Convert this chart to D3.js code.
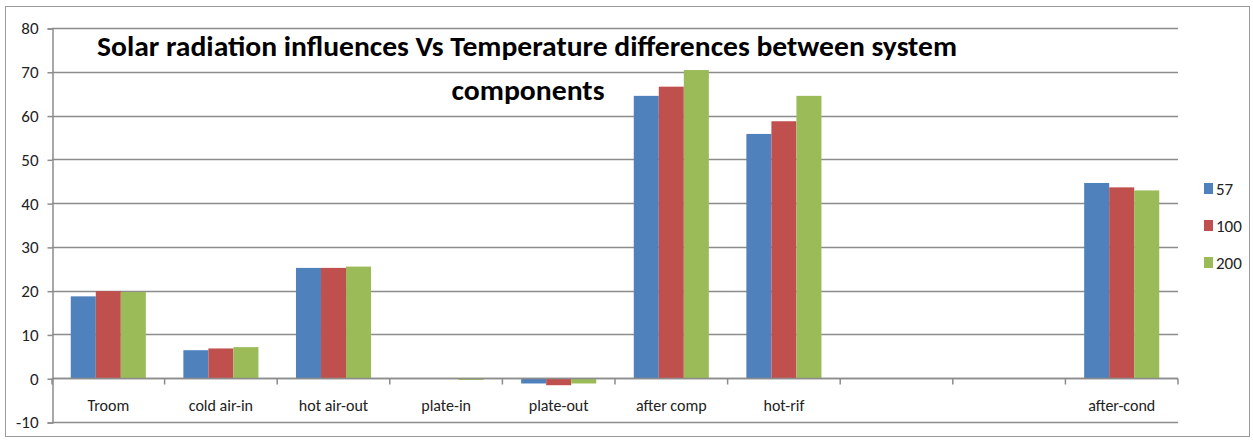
<!DOCTYPE html>
<html>
<head>
<meta charset="utf-8">
<script src="https://cdn.jsdelivr.net/npm/d3@7"></script>
<style>
  body { margin: 0; background: #fff; }
  text { font-family: Carlito, Calibri, "Open Sans", "DejaVu Sans", sans-serif; }
</style>
</head>
<body>
<div id="chart"></div>
<script>
// data
const categories = ['Troom', 'cold air-in', 'hot air-out', 'plate-in', 'plate-out', 'after comp', 'hot-rif', ' ', '  ', 'after-cond'];
const seriesNames = ['57', '100', '200'];
const s57  = [18.7, 6.4, 25.2, 0,    -1.2, 64.5, 55.8, null, null, 44.6];
const s100 = [19.9, 6.8, 25.2, 0,    -1.6, 66.6, 58.7, null, null, 43.6];
const s200 = [19.7, 7.1, 25.5, -0.4, -1.2, 70.4, 64.5, null, null, 42.9];
const yTicks = [-10, 0, 10, 20, 30, 40, 50, 60, 70, 80];
const colors = ['#4F81BD', '#C0504D', '#9BBB59'];

const w = 1253, h = 441;
const padL = 52, padR = 1178, padT = 28, padB = 422;

const svg = d3.select('#chart').append('svg')
  .attr('width', w)
  .attr('height', h);

// outer frame
svg.append('rect')
  .attr('x', 5.5).attr('y', 6.5)
  .attr('width', 1244).attr('height', 430)
  .attr('fill', 'none')
  .attr('stroke', '#9a9a9a')
  .attr('stroke-width', 1);

//Scales
const xScale = d3.scaleBand()
  .domain(categories)
  .range([padL, padR])
  .paddingInner(1.5 / 4.5)
  .paddingOuter(0.75 / 4.5);

const xOuter = d3.scaleBand().domain(categories).range([padL, padR]);

const yScale = d3.scaleLinear()
  .domain([-10, 80])
  .range([padB, padT]);

const xSub = d3.scaleBand()
  .domain(seriesNames)
  .range([0, xScale.bandwidth()]);

// gridlines
svg.append('g')
  .selectAll('line')
  .data(yTicks)
  .enter()
  .append('line')
  .attr('x1', padL).attr('x2', padR)
  .attr('y1', d => Math.round(yScale(d)) + 0.5)
  .attr('y2', d => Math.round(yScale(d)) + 0.5)
  .attr('stroke', '#8c8c8c')
  .attr('stroke-width', 1.5);

// bars
const series = [s57, s100, s200];
series.forEach((vals, i) => {
  svg.append('g')
    .selectAll('rect')
    .data(vals.map((v, j) => ({cat: categories[j], v: v})).filter(d => d.v !== null))
    .enter()
    .append('rect')
    .attr('x', d => xScale(d.cat) + xSub(seriesNames[i]))
    .attr('width', xSub.bandwidth())
    .attr('y', d => yScale(Math.max(0, d.v)))
    .attr('height', d => Math.abs(yScale(d.v) - yScale(0)))
    .attr('fill', colors[i]);
});

// y axis
const yAxis = d3.axisLeft(yScale)
  .tickValues(yTicks)
  .tickFormat(d => String(d))
  .tickSize(5)
  .tickPadding(9);
const yG = svg.append('g')
  .attr('transform', `translate(${padL + 0.5}, 0.5)`)
  .attr('font-size', 17)
  .attr('font-family', 'Carlito, Calibri, sans-serif')
  .call(yAxis);
yG.attr('font-size', 17).attr('font-family', 'Carlito, Calibri, sans-serif');
yG.select('.domain').attr('stroke', '#8c8c8c').attr('stroke-width', 1.5);
yG.selectAll('.tick line').attr('stroke', '#8c8c8c').attr('stroke-width', 1.5);
yG.selectAll('.tick text')
  .style('font-size', '17px')
  .attr('fill', '#222');

// x axis on zero line, ticks at category boundaries
const xAxisG = svg.append('g')
  .attr('transform', `translate(0, ${Math.round(yScale(0)) + 0.5})`);
xAxisG.append('line')
  .attr('x1', padL).attr('x2', padR)
  .attr('stroke', '#8c8c8c')
  .attr('stroke-width', 1.5);
xAxisG.selectAll('line.tk')
  .data(categories.concat(['end']))
  .enter()
  .append('line')
  .attr('class', 'tk')
  .attr('x1', (d, i) => i < categories.length ? xOuter(d) : padR)
  .attr('x2', (d, i) => i < categories.length ? xOuter(d) : padR)
  .attr('y1', 0).attr('y2', 6)
  .attr('stroke', '#8c8c8c')
  .attr('stroke-width', 1.5);

svg.append('g')
  .selectAll('text')
  .data(categories)
  .enter()
  .append('text')
  .attr('x', d => xOuter(d) + xOuter.bandwidth() / 2)
  .attr('y', 411)
  .attr('text-anchor', 'middle')
  .style('font-size', '16px')
  .attr('fill', '#222')
  .text(d => d.trim());

// title
svg.append('text')
  .attr('x', 527).attr('y', 56)
  .attr('text-anchor', 'middle')
  .attr('textLength', 860)
  .attr('lengthAdjust', 'spacingAndGlyphs')
  .style('font-size', '28px')
  .style('font-weight', 'bold')
  .attr('fill', '#000')
  .text('Solar radiation influences Vs Temperature differences between system');
svg.append('text')
  .attr('x', 528).attr('y', 100)
  .attr('text-anchor', 'middle')
  .attr('textLength', 153)
  .attr('lengthAdjust', 'spacingAndGlyphs')
  .style('font-size', '28px')
  .style('font-weight', 'bold')
  .attr('fill', '#000')
  .text('components');

// legend
const legend = svg.append('g');
seriesNames.forEach((name, i) => {
  legend.append('rect')
    .attr('x', 1204).attr('y', 183 + i * 37)
    .attr('width', 9).attr('height', 11)
    .attr('fill', colors[i]);
  legend.append('text')
    .attr('x', 1216).attr('y', 195 + i * 37)
    .style('font-size', '17px')
    .attr('fill', '#222')
    .text(name);
});
</script>
</body>
</html>
